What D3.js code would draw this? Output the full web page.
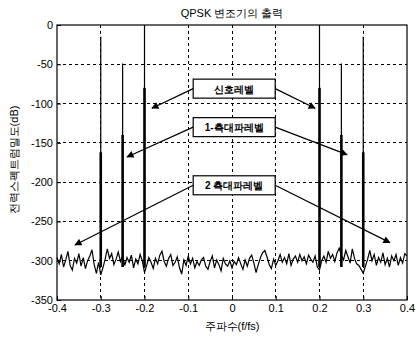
<!DOCTYPE html>
<html>
<head>
<meta charset="utf-8">
<script src="https://cdn.jsdelivr.net/npm/d3@7"></script>
<style>
  body { margin: 0; background: #fff; }
  text { font-family: "Liberation Sans", Arial, sans-serif; fill: #000; }
</style>
</head>
<body>
<svg id="chart" width="416" height="337"></svg>
<script>
// x ticks / y ticks
var xTicks = [-0.4, -0.3, -0.2, -0.1, 0, 0.1, 0.2, 0.3, 0.4];
var yTicks = [0, -50, -100, -150, -200, -250, -300, -350];

// noise floor, read every 0.005 from -0.4 to 0.4
var noiseStart = -0.4, noiseStep = 0.005;
var noise = [
  -296,-304,-292,-308,-299,-288,-306,-312,-297,-303,-291,-307,-296,-310,-300,-294,-286,-305,-316,-302,
  -318,-309,-298,-285,-297,-291,-305,-298,-289,-301,-294,-306,-296,-302,-293,-309,-298,-304,-292,-300,
  -315,-306,-296,-302,-310,-297,-304,-293,-288,-301,-307,-297,-292,-306,-302,-295,-309,-317,-299,-306,
  -294,-304,-297,-309,-301,-306,-299,-296,-307,-311,-301,-294,-309,-299,-305,-313,-297,-304,-307,-300,
  -309,-301,-305,-296,-304,-311,-299,-307,-297,-293,-303,-315,-305,-296,-290,-287,-295,-305,-310,-298,
  -306,-300,-292,-302,-296,-304,-291,-306,-298,-294,-302,-292,-300,-295,-304,-293,-298,-302,-294,-308,
  -312,-300,-294,-302,-288,-297,-292,-301,-290,-284,-293,-299,-287,-295,-303,-285,-297,-304,-306,-311,
  -316,-307,-298,-287,-300,-292,-306,-296,-302,-290,-305,-297,-308,-294,-300,-292,-306,-296,-303,-291,
  -294
];

// spectral lines: position, peak (thin top), thick segment top
var spikeFreq = [-0.3, -0.25, -0.2, 0.2, 0.25, 0.3];
var spikePeak = [-15, -49, 0, 0, -49, -15];
var spikeBody = [-162, -140, -80, -80, -140, -162];

// annotation boxes
var labels = ["신호레벨", "1-측대파레벨", "2 측대파레벨"];
var labelX = [0.005, 0.005, 0.005];
var labelY = [-81, -130, -204];
var arrowLeftX = [-0.183, -0.24, -0.359];
var arrowLeftY = [-106, -168, -280];
var arrowRightX = [0.19, 0.263, 0.361];
var arrowRightY = [-106, -165, -277];

(function () {
var svg = d3.select("#chart");
var mLeft = 57, mRight = 407, mTop = 25, mBottom = 300;

var x = d3.scaleLinear().domain([-0.4, 0.4]).range([mLeft, mRight]);
var y = d3.scaleLinear().domain([-350, 0]).range([mBottom, mTop]);

// grid
var grid = svg.append("g").attr("stroke", "#000").attr("stroke-width", 1)
  .attr("stroke-dasharray", "3,3").attr("shape-rendering", "crispEdges");
xTicks.slice(1, -1).forEach(function (t) {
  grid.append("line").attr("x1", x(t)).attr("x2", x(t)).attr("y1", mTop).attr("y2", mBottom);
});
yTicks.slice(1, -1).forEach(function (t) {
  grid.append("line").attr("x1", mLeft).attr("x2", mRight).attr("y1", y(t)).attr("y2", y(t));
});

// noise floor line
var pts = noise.map(function (v, i) { return [noiseStart + i * noiseStep, v]; });
svg.append("path")
  .attr("d", d3.line().x(function (d) { return x(d[0]); }).y(function (d) { return y(d[1]); })(pts))
  .attr("fill", "none").attr("stroke", "#000").attr("stroke-width", 1.2);

// spikes
spikeFreq.forEach(function (f, i) {
  var base = -308;
  svg.append("line").attr("x1", x(f)).attr("x2", x(f))
    .attr("y1", y(spikePeak[i])).attr("y2", y(base))
    .attr("stroke", "#000").attr("stroke-width", 1.2);
  svg.append("line").attr("x1", x(f)).attr("x2", x(f))
    .attr("y1", y(spikeBody[i])).attr("y2", y(base))
    .attr("stroke", "#000").attr("stroke-width", 2.6);
});

// axes
var hy = function (s) { return s.replace("\u2212", "-"); };
var xAxis = d3.axisBottom(x).tickValues(xTicks).tickSize(-4).tickPadding(6)
  .tickFormat(function (d) { return d === 0 ? "0" : hy(d3.format(".1f")(d)); });
var yAxis = d3.axisLeft(y).tickValues(yTicks).tickSize(-4).tickPadding(4)
  .tickFormat(function (d) { return hy(d3.format("d")(d)); });

var gx = svg.append("g").attr("transform", "translate(0," + mBottom + ")").call(xAxis);
var gy = svg.append("g").attr("transform", "translate(" + mLeft + ",0)").call(yAxis);
[gx, gy].forEach(function (g) {
  g.select(".domain").remove();
  g.selectAll("text").attr("font-size", 11).attr("fill", "#000")
    .attr("font-family", "Liberation Sans, Arial, sans-serif");
});
gx.selectAll("text").attr("dy", "0.55em");

// frame
svg.append("rect").attr("x", mLeft).attr("y", mTop).attr("width", mRight - mLeft).attr("height", mBottom - mTop)
  .attr("fill", "none").attr("stroke", "#000").attr("stroke-width", 1.2);

// arrows + boxes
var defs = svg.append("defs");
defs.append("marker").attr("id", "ah").attr("viewBox", "0 0 10 10").attr("refX", 9).attr("refY", 5)
  .attr("markerWidth", 8).attr("markerHeight", 6).attr("orient", "auto")
  .append("path").attr("d", "M0,0L10,5L0,10z").attr("fill", "#000");

var boxHalf = 41, boxH = 19;
labels.forEach(function (t, i) {
  var cx = x(labelX[i]), cy = y(labelY[i]);
  svg.append("line").attr("x1", cx - boxHalf).attr("y1", cy)
    .attr("x2", x(arrowLeftX[i])).attr("y2", y(arrowLeftY[i]))
    .attr("stroke", "#000").attr("stroke-width", 1.2).attr("marker-end", "url(#ah)");
  svg.append("line").attr("x1", cx + boxHalf).attr("y1", cy)
    .attr("x2", x(arrowRightX[i])).attr("y2", y(arrowRightY[i]))
    .attr("stroke", "#000").attr("stroke-width", 1.2).attr("marker-end", "url(#ah)");
  svg.append("rect").attr("x", cx - boxHalf).attr("y", cy - boxH / 2)
    .attr("width", boxHalf * 2).attr("height", boxH)
    .attr("fill", "#fff").attr("stroke", "#000").attr("stroke-width", 1.2);
  svg.append("text").attr("x", cx).attr("y", cy + 4).attr("text-anchor", "middle")
    .attr("font-size", 10).attr("font-weight", "bold")
    .attr("font-family", "Noto Sans CJK KR, sans-serif").text(t);
});

// titles
svg.append("text").attr("x", 232).attr("y", 17).attr("text-anchor", "middle")
  .attr("font-size", 11).attr("font-family", "Noto Sans CJK KR, sans-serif")
  .text("QPSK 변조기의 출력");
svg.append("text").attr("x", 232).attr("y", 330).attr("text-anchor", "middle")
  .attr("font-size", 11).attr("font-family", "Noto Sans CJK KR, sans-serif")
  .text("주파수(f/fs)");
svg.append("text").attr("transform", "translate(18," + 160 + ") rotate(-90)")
  .attr("text-anchor", "middle").attr("font-size", 11).attr("fill", "#000")
  .attr("font-family", "Noto Sans CJK KR, sans-serif")
  .text("전력스펙트럼밀도(dB)");
})();
</script>
</body>
</html>
